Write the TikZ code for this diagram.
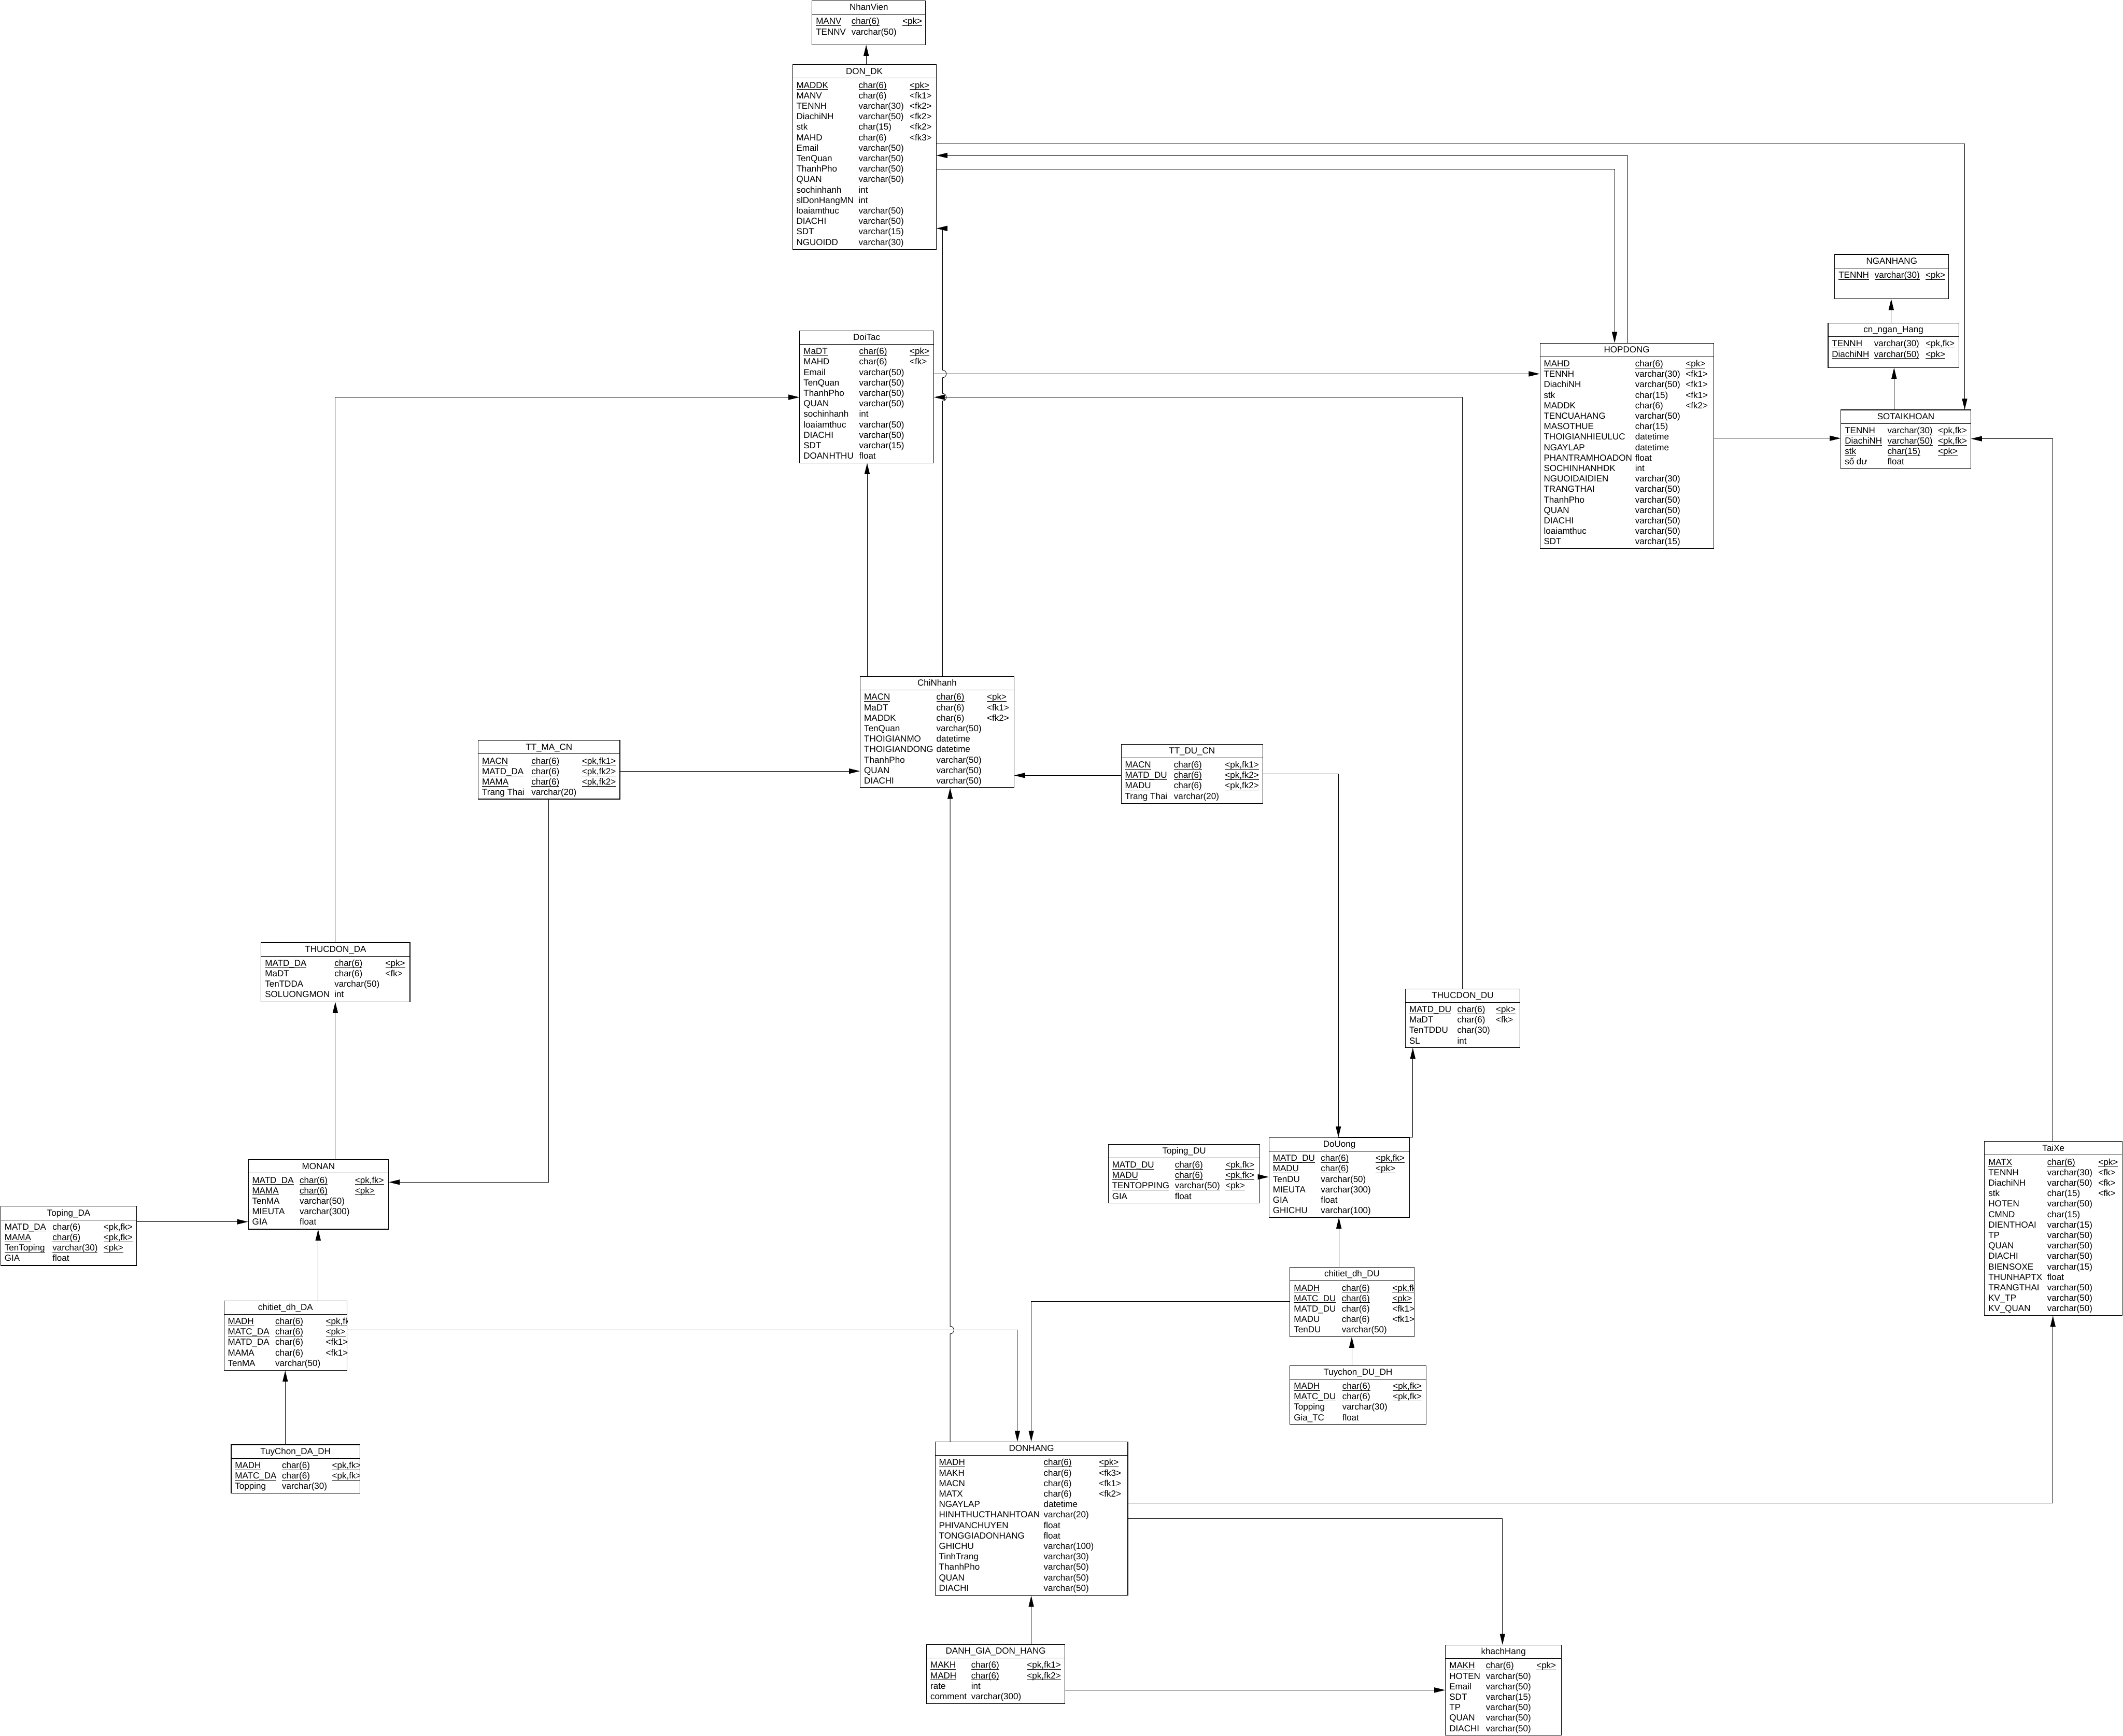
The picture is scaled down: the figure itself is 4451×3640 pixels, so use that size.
\documentclass[tikz,border=0pt]{standalone}
\usepackage{fontspec}
\setmainfont{Liberation Sans}
\usetikzlibrary{arrows.meta}
\newcommand{\chu}{\fontsize{18.5pt}{21.95pt}\selectfont}
\newcommand{\gach}[1]{\leavevmode\setbox0=\hbox{#1}\rlap{\rule[-3.5pt]{\wd0}{1.1pt}}\box0}
\newcommand{\pkrow}[3]{\gach{#1}&\gach{#2}&\gach{#3}\\}
\newcommand{\fdrow}[3]{#1&#2&#3\\}
\tikzset{
  khung/.style={draw, line width=1.2pt, anchor=north west, inner sep=0pt, fill=white},
  fk/.style={-{Triangle[length=23pt,width=11pt]}, line width=1pt},
}
% bảng: tên, x, y, rộng, cao, cột 2, cột 3, tiêu đề, các dòng
\newcommand{\bang}[9]{%
  \node[khung, minimum width=#4pt, minimum height=#5pt] (#1) at (#2,#3) {};
  \draw[line width=1pt] ([yshift=-29pt]#1.north west) -- ([yshift=-29pt]#1.north east);
  \node[anchor=base, inner sep=0pt, font=\chu] at ([yshift=-20.5pt]#1.north) {#8};
  \begin{scope}
    \clip (#1.north west) rectangle (#1.south east);
    \node[anchor=north west, inner sep=0pt, font=\chu] at ([xshift=8.5pt,yshift=-34.3pt]#1.north west)
      {\begin{tabular}{@{}p{\dimexpr#6pt-8.5pt\relax}@{}p{\dimexpr#7pt-#6pt\relax}@{}l@{}}#9\end{tabular}};
  \end{scope}}
\begin{document}
\begin{tikzpicture}[x=1pt, y=-1pt]
    \useasboundingbox (0,0) rectangle (4451,3640);
    % nhân viên, đơn đăng ký
    \bang{nhanVien}{1702}{1}{238}{92}{83}{190}{NhanVien}{%
      \pkrow{MANV}{char(6)}{<pk>}
      \fdrow{TENNV}{varchar(50)}{}}
    \bang{donDK}{1661}{135}{301}{388}{139}{246}{DON\_DK}{%
      \pkrow{MADDK}{char(6)}{<pk>}
      \fdrow{MANV}{char(6)}{<fk1>}
      \fdrow{TENNH}{varchar(30)}{<fk2>}
      \fdrow{DiachiNH}{varchar(50)}{<fk2>}
      \fdrow{stk}{char(15)}{<fk2>}
      \fdrow{MAHD}{char(6)}{<fk3>}
      \fdrow{Email}{varchar(50)}{}
      \fdrow{TenQuan}{varchar(50)}{}
      \fdrow{ThanhPho}{varchar(50)}{}
      \fdrow{QUAN}{varchar(50)}{}
      \fdrow{sochinhanh}{int}{}
      \fdrow{slDonHangMN}{int}{}
      \fdrow{loaiamthuc}{varchar(50)}{}
      \fdrow{DIACHI}{varchar(50)}{}
      \fdrow{SDT}{varchar(15)}{}
      \fdrow{NGUOIDD}{varchar(30)}{}}
    % đối tác, hợp đồng
    \bang{doiTac}{1676}{693}{281}{277}{125}{231}{DoiTac}{%
      \pkrow{MaDT}{char(6)}{<pk>}
      \fdrow{MAHD}{char(6)}{<fk>}
      \fdrow{Email}{varchar(50)}{}
      \fdrow{TenQuan}{varchar(50)}{}
      \fdrow{ThanhPho}{varchar(50)}{}
      \fdrow{QUAN}{varchar(50)}{}
      \fdrow{sochinhanh}{int}{}
      \fdrow{loaiamthuc}{varchar(50)}{}
      \fdrow{DIACHI}{varchar(50)}{}
      \fdrow{SDT}{varchar(15)}{}
      \fdrow{DOANHTHU}{float}{}}
    \bang{hopDong}{3228}{719}{364}{431}{200}{306}{HOPDONG}{%
      \pkrow{MAHD}{char(6)}{<pk>}
      \fdrow{TENNH}{varchar(30)}{<fk1>}
      \fdrow{DiachiNH}{varchar(50)}{<fk1>}
      \fdrow{stk}{char(15)}{<fk1>}
      \fdrow{MADDK}{char(6)}{<fk2>}
      \fdrow{TENCUAHANG}{varchar(50)}{}
      \fdrow{MASOTHUE}{char(15)}{}
      \fdrow{THOIGIANHIEULUC}{datetime}{}
      \fdrow{NGAYLAP}{datetime}{}
      \fdrow{PHANTRAMHOADON}{float}{}
      \fdrow{SOCHINHANHDK}{int}{}
      \fdrow{NGUOIDAIDIEN}{varchar(30)}{}
      \fdrow{TRANGTHAI}{varchar(50)}{}
      \fdrow{ThanhPho}{varchar(50)}{}
      \fdrow{QUAN}{varchar(50)}{}
      \fdrow{DIACHI}{varchar(50)}{}
      \fdrow{loaiamthuc}{varchar(50)}{}
      \fdrow{SDT}{varchar(15)}{}}
    % ngân hàng, tài khoản
    \bang{nganHang}{3846}{533}{239}{93}{84}{191}{NGANHANG}{%
      \pkrow{TENNH}{varchar(30)}{<pk>}}
    \bang{cnNganHang}{3832}{677}{274}{93}{97}{205}{cn\_ngan\_Hang}{%
      \pkrow{TENNH}{varchar(30)}{<pk,fk>}
      \pkrow{DiachiNH}{varchar(50)}{<pk>}}
    \bang{soTK}{3859}{859}{272}{123}{98}{204}{SOTAIKHOAN}{%
      \pkrow{TENNH}{varchar(30)}{<pk,fk>}
      \pkrow{DiachiNH}{varchar(50)}{<pk,fk>}
      \pkrow{stk}{char(15)}{<pk>}
      \fdrow{số dư}{float}{}}
    % chi nhánh
    \bang{chiNhanh}{1803}{1418}{322}{233}{160}{266}{ChiNhanh}{%
      \pkrow{MACN}{char(6)}{<pk>}
      \fdrow{MaDT}{char(6)}{<fk1>}
      \fdrow{MADDK}{char(6)}{<fk2>}
      \fdrow{TenQuan}{varchar(50)}{}
      \fdrow{THOIGIANMO}{datetime}{}
      \fdrow{THOIGIANDONG}{datetime}{}
      \fdrow{ThanhPho}{varchar(50)}{}
      \fdrow{QUAN}{varchar(50)}{}
      \fdrow{DIACHI}{varchar(50)}{}}
    \bang{ttMaCN}{1002}{1552}{297}{123}{112}{218}{TT\_MA\_CN}{%
      \pkrow{MACN}{char(6)}{<pk,fk1>}
      \pkrow{MATD\_DA}{char(6)}{<pk,fk2>}
      \pkrow{MAMA}{char(6)}{<pk,fk2>}
      \fdrow{Trang Thai}{varchar(20)}{}}
    \bang{ttDuCN}{2350}{1560}{297}{124}{111}{218}{TT\_DU\_CN}{%
      \pkrow{MACN}{char(6)}{<pk,fk1>}
      \pkrow{MATD\_DU}{char(6)}{<pk,fk2>}
      \pkrow{MADU}{char(6)}{<pk,fk2>}
      \fdrow{Trang Thai}{varchar(20)}{}}
    % thực đơn
    \bang{tdDA}{547}{1976}{312}{124}{154}{261}{THUCDON\_DA}{%
      \pkrow{MATD\_DA}{char(6)}{<pk>}
      \fdrow{MaDT}{char(6)}{<fk>}
      \fdrow{TenTDDA}{varchar(50)}{}
      \fdrow{SOLUONGMON}{int}{}}
    \bang{tdDU}{2946}{2073}{240}{123}{109}{190}{THUCDON\_DU}{%
      \pkrow{MATD\_DU}{char(6)}{<pk>}
      \fdrow{MaDT}{char(6)}{<fk>}
      \fdrow{TenTDDU}{char(30)}{}
      \fdrow{SL}{int}{}}
    % món ăn
    \bang{monAn}{520}{2431}{294}{146}{108}{224}{MONAN}{%
      \pkrow{MATD\_DA}{char(6)}{<pk,fk>}
      \pkrow{MAMA}{char(6)}{<pk>}
      \fdrow{TenMA}{varchar(50)}{}
      \fdrow{MIEUTA}{varchar(300)}{}
      \fdrow{GIA}{float}{}}
    \bang{topingDA}{1}{2529}{285}{124}{109}{216}{Toping\_DA}{%
      \pkrow{MATD\_DA}{char(6)}{<pk,fk>}
      \pkrow{MAMA}{char(6)}{<pk,fk>}
      \pkrow{TenToping}{varchar(30)}{<pk>}
      \fdrow{GIA}{float}{}}
    \bang{ctDA}{469}{2727}{258}{146}{108}{214}{chitiet\_dh\_DA}{%
      \pkrow{MADH}{char(6)}{<pk,fk2>}
      \pkrow{MATC\_DA}{char(6)}{<pk>}
      \fdrow{MATD\_DA}{char(6)}{<fk1>}
      \fdrow{MAMA}{char(6)}{<fk1>}
      \fdrow{TenMA}{varchar(50)}{}}
    \bang{tcDA}{484}{3029}{270}{102}{107}{212}{TuyChon\_DA\_DH}{%
      \pkrow{MADH}{char(6)}{<pk,fk>}
      \pkrow{MATC\_DA}{char(6)}{<pk,fk>}
      \fdrow{Topping}{varchar(30)}{}}
    % đồ uống
    \bang{topingDU}{2323}{2399}{318}{123}{140}{246}{Toping\_DU}{%
      \pkrow{MATD\_DU}{char(6)}{<pk,fk>}
      \pkrow{MADU}{char(6)}{<pk,fk>}
      \pkrow{TENTOPPING}{varchar(50)}{<pk>}
      \fdrow{GIA}{float}{}}
    \bang{doUong}{2660}{2385}{295}{167}{109}{224}{DoUong}{%
      \pkrow{MATD\_DU}{char(6)}{<pk,fk>}
      \pkrow{MADU}{char(6)}{<pk>}
      \fdrow{TenDU}{varchar(50)}{}
      \fdrow{MIEUTA}{varchar(300)}{}
      \fdrow{GIA}{float}{}
      \fdrow{GHICHU}{varchar(100)}{}}
    \bang{ctDU}{2704}{2657}{260}{145}{109}{215}{chitiet\_dh\_DU}{%
      \pkrow{MADH}{char(6)}{<pk,fk2>}
      \pkrow{MATC\_DU}{char(6)}{<pk>}
      \fdrow{MATD\_DU}{char(6)}{<fk1>}
      \fdrow{MADU}{char(6)}{<fk1>}
      \fdrow{TenDU}{varchar(50)}{}}
    \bang{tcDU}{2704}{2863}{285}{123}{110}{216}{Tuychon\_DU\_DH}{%
      \pkrow{MADH}{char(6)}{<pk,fk>}
      \pkrow{MATC\_DU}{char(6)}{<pk,fk>}
      \fdrow{Topping}{varchar(30)}{}
      \fdrow{Gia\_TC}{float}{}}
    % tài xế
    \bang{taiXe}{4160}{2393}{289}{365}{132}{239}{TaiXe}{%
      \pkrow{MATX}{char(6)}{<pk>}
      \fdrow{TENNH}{varchar(30)}{<fk>}
      \fdrow{DiachiNH}{varchar(50)}{<fk>}
      \fdrow{stk}{char(15)}{<fk>}
      \fdrow{HOTEN}{varchar(50)}{}
      \fdrow{CMND}{char(15)}{}
      \fdrow{DIENTHOAI}{varchar(15)}{}
      \fdrow{TP}{varchar(50)}{}
      \fdrow{QUAN}{varchar(50)}{}
      \fdrow{DIACHI}{varchar(50)}{}
      \fdrow{BIENSOXE}{varchar(15)}{}
      \fdrow{THUNHAPTX}{float}{}
      \fdrow{TRANGTHAI}{varchar(50)}{}
      \fdrow{KV\_TP}{varchar(50)}{}
      \fdrow{KV\_QUAN}{varchar(50)}{}}
    % đơn hàng, đánh giá, khách hàng
    \bang{donHang}{1960}{3023}{404}{322}{228}{344}{DONHANG}{%
      \pkrow{MADH}{char(6)}{<pk>}
      \fdrow{MAKH}{char(6)}{<fk3>}
      \fdrow{MACN}{char(6)}{<fk1>}
      \fdrow{MATX}{char(6)}{<fk2>}
      \fdrow{NGAYLAP}{datetime}{}
      \fdrow{HINHTHUCTHANHTOAN}{varchar(20)}{}
      \fdrow{PHIVANCHUYEN}{float}{}
      \fdrow{TONGGIADONHANG}{float}{}
      \fdrow{GHICHU}{varchar(100)}{}
      \fdrow{TinhTrang}{varchar(30)}{}
      \fdrow{ThanhPho}{varchar(50)}{}
      \fdrow{QUAN}{varchar(50)}{}
      \fdrow{DIACHI}{varchar(50)}{}}
    \bang{danhGia}{1942}{3448}{290}{124}{94}{211}{DANH\_GIA\_DON\_HANG}{%
      \pkrow{MAKH}{char(6)}{<pk,fk1>}
      \pkrow{MADH}{char(6)}{<pk,fk2>}
      \fdrow{rate}{int}{}
      \fdrow{comment}{varchar(300)}{}}
    \bang{khachHang}{3030}{3449}{243}{189}{85}{191}{khachHang}{%
      \pkrow{MAKH}{char(6)}{<pk>}
      \fdrow{HOTEN}{varchar(50)}{}
      \fdrow{Email}{varchar(50)}{}
      \fdrow{SDT}{varchar(15)}{}
      \fdrow{TP}{varchar(50)}{}
      \fdrow{QUAN}{varchar(50)}{}
      \fdrow{DIACHI}{varchar(50)}{}}
    % khóa ngoại
    \draw[fk] (1816,0 |- donDK.north) -- (1816,0 |- nhanVien.south);
    \draw[fk] (donDK.east |- 0,301) -| (4119,0 |- soTK.north);
    \draw[fk] (3413,0 |- hopDong.north) |- (donDK.east |- 0,326);
    \draw[fk] (donDK.east |- 0,355) -| (3385,0 |- hopDong.north);
    \draw[fk] (1976,0 |- chiNhanh.north) -- (1976,841) arc (90:-90:8) -- (1976,792) arc (90:-90:8) |- (donDK.east |- 0,479);
    \draw[fk] (1818,0 |- chiNhanh.north) -- (1818,0 |- doiTac.south);
    \draw[fk] (doiTac.east |- 0,784) -- (hopDong.west |- 0,784);
    \draw[fk] (3066,0 |- tdDU.north) |- (doiTac.east |- 0,833);
    \draw[fk] (703,0 |- tdDA.north) |- (doiTac.west |- 0,833);
    \draw[fk] (hopDong.east |- 0,919) -- (soTK.west |- 0,919);
    \draw[fk] (3965,0 |- cnNganHang.north) -- (3965,0 |- nganHang.south);
    \draw[fk] (3971,0 |- soTK.north) -- (3971,0 |- cnNganHang.south);
    \draw[fk] (4304,0 |- taiXe.north) |- (soTK.east |- 0,920);
    \draw[fk] (ttMaCN.east |- 0,1617) -- (chiNhanh.west |- 0,1617);
    \draw[fk] (1150,0 |- ttMaCN.south) |- (monAn.east |- 0,2479);
    \draw[fk] (ttDuCN.west |- 0,1626) -- (chiNhanh.east |- 0,1626);
    \draw[fk] (ttDuCN.east |- 0,1623) -| (2806,0 |- doUong.north);
    \draw[fk] (703,0 |- monAn.north) -- (703,0 |- tdDA.south);
    \draw[fk] (topingDA.east |- 0,2562) -- (monAn.west |- 0,2562);
    \draw[fk] (667,0 |- ctDA.north) -- (667,0 |- monAn.south);
    \draw[fk] (598,0 |- tcDA.north) -- (598,0 |- ctDA.south);
    \draw[fk] (ctDA.east |- 0,2789) -| (2133,0 |- donHang.north);
    \draw[fk] (2806,0 |- doUong.north) -| (2962,0 |- tdDU.south);
    \draw[fk] (topingDU.east |- 0,2468) -- (doUong.west |- 0,2468);
    \draw[fk] (2807,0 |- ctDU.north) -- (2807,0 |- doUong.south);
    \draw[fk] (2834,0 |- tcDU.north) -- (2834,0 |- ctDU.south);
    \draw[fk] (ctDU.west |- 0,2729) -| (2162,0 |- donHang.north);
    \draw[fk] (1992,0 |- donHang.north) -- (1992,2797) arc (90:-90:8) -- (1992,0 |- chiNhanh.south);
    \draw[fk] (donHang.east |- 0,3152) -| (4304,0 |- taiXe.south);
    \draw[fk] (donHang.east |- 0,3184) -| (3150,0 |- khachHang.north);
    \draw[fk] (2162,0 |- danhGia.north) -- (2162,0 |- donHang.south);
    \draw[fk] (danhGia.east |- 0,3544) -- (khachHang.west |- 0,3544);
\end{tikzpicture}
\end{document}
